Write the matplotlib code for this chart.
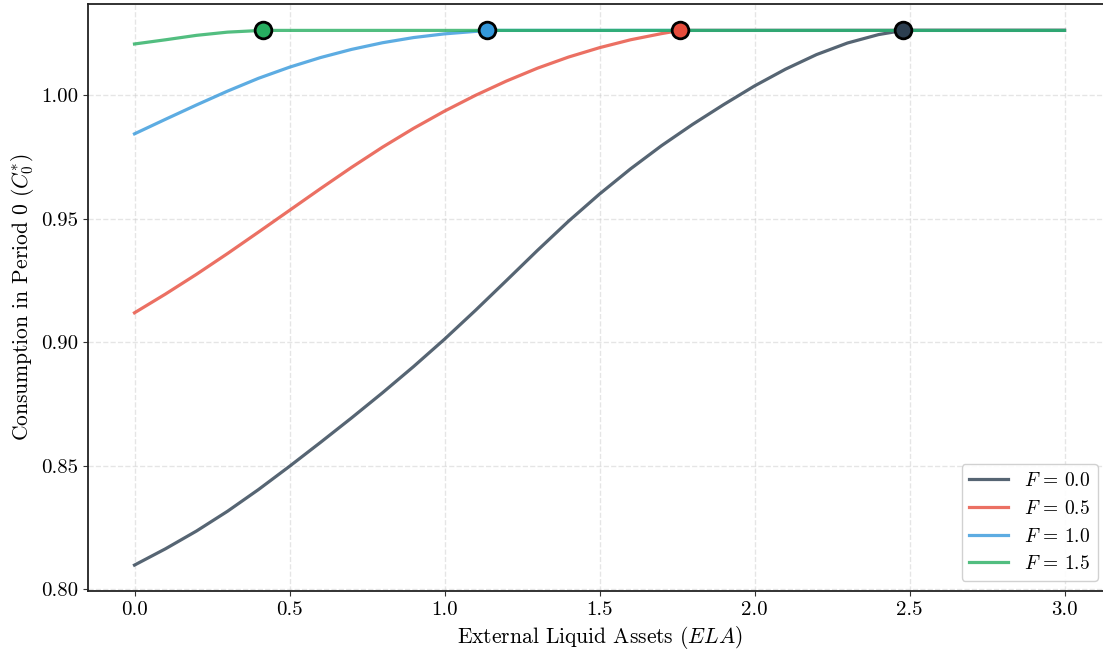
import matplotlib
matplotlib.use("Agg")
import matplotlib.pyplot as plt

plt.rcParams["font.family"] = "serif"
plt.rcParams["font.serif"] = ["cmr10", "DejaVu Serif"]
plt.rcParams["mathtext.fontset"] = "cm"
plt.rcParams["axes.formatter.use_mathtext"] = True

# values
c_max = 1.0263

ela_f0 = [0.0, 0.1, 0.2, 0.3, 0.4, 0.5, 0.6, 0.7, 0.8, 0.9, 1.0, 1.1, 1.2, 1.3, 1.4,
          1.5, 1.6, 1.7, 1.8, 1.9, 2.0, 2.1, 2.2, 2.3, 2.4, 2.48, 2.6, 2.8, 3.0]
c_f0 = [0.8097, 0.8163, 0.8235, 0.8315, 0.8403, 0.8497, 0.8594, 0.8693, 0.8795, 0.8901,
        0.9012, 0.9129, 0.9250, 0.9372, 0.9490, 0.9600, 0.9702, 0.9796, 0.9882, 0.9962,
        1.0038, 1.0106, 1.0165, 1.0212, 1.0246, 1.0263, 1.0263, 1.0263, 1.0263]

ela_f05 = [0.0, 0.1, 0.2, 0.3, 0.4, 0.5, 0.6, 0.7, 0.8, 0.9, 1.0, 1.1, 1.2, 1.3, 1.4,
           1.5, 1.6, 1.7, 1.76, 2.0, 2.5, 3.0]
c_f05 = [0.9119, 0.9195, 0.9275, 0.9359, 0.9446, 0.9534, 0.9622, 0.9708, 0.9790, 0.9866,
         0.9936, 1.0000, 1.0058, 1.0110, 1.0155, 1.0193, 1.0225, 1.0250, 1.0263, 1.0263,
         1.0263, 1.0263]

ela_f10 = [0.0, 0.1, 0.2, 0.3, 0.4, 0.5, 0.6, 0.7, 0.8, 0.9, 1.0, 1.1, 1.14, 1.5, 2.0,
           2.5, 3.0]
c_f10 = [0.9844, 0.9903, 0.9961, 1.0017, 1.0069, 1.0114, 1.0153, 1.0186, 1.0213, 1.0234,
         1.0249, 1.0259, 1.0263, 1.0263, 1.0263, 1.0263, 1.0263]

ela_f15 = [0.0, 0.1, 0.2, 0.3, 0.41, 1.0, 2.0, 3.0]
c_f15 = [1.0208, 1.0225, 1.0243, 1.0256, 1.0263, 1.0263, 1.0263, 1.0263]

f_labels = ["0.0", "0.5", "1.0", "1.5"]
kink_ela = [2.48, 1.76, 1.138, 0.413]
colors = ["#2c3e50", "#e74c3c", "#3498db", "#27ae60"]

series = [(ela_f0, c_f0), (ela_f05, c_f05), (ela_f10, c_f10), (ela_f15, c_f15)]

fig = plt.figure(figsize=(11.03, 6.54), dpi=100)
ax = fig.add_axes([88 / 1103, 63 / 654, 1023 / 1103, 587.5 / 654])

for (x, y), lab, col in zip(series, f_labels, colors):
    ax.plot(x, y, color=col, alpha=0.8, lw=2.3, label=rf"$F\,=\,{lab}$", zorder=2)

for k, col in zip(kink_ela, colors):
    ax.plot(k, c_max, "o", color=col, markersize=12, markeredgecolor="black",
            markeredgewidth=2, zorder=5)

ax.set_xlim(-0.15, 3.15)
ax.set_ylim(0.7992, 1.0372)
ax.set_xticks([0.0, 0.5, 1.0, 1.5, 2.0, 2.5, 3.0])
ax.set_yticks([0.80, 0.85, 0.90, 0.95, 1.00])
ax.set_yticklabels(["0.80", "0.85", "0.90", "0.95", "1.00"])
ax.set_xticklabels(["0.0", "0.5", "1.0", "1.5", "2.0", "2.5", "3.0"])
ax.tick_params(labelsize=15, color="#333333")

ax.grid(True, linestyle="--", color="#cccccc", alpha=0.5, lw=1)
for s in ax.spines.values():
    s.set_color("#222222")
    s.set_linewidth(1.3)

ax.set_xlabel(r"External Liquid Assets ($ELA$)", fontsize=15.5)
ax.set_ylabel(r"Consumption in Period 0 ($C_0^{*}$)", fontsize=15.5)

ax.legend(loc="lower right", bbox_to_anchor=(0.987, 0.017), borderaxespad=0,
          fontsize=14, framealpha=0.9, edgecolor="#cccccc", fancybox=True)

fig.savefig("out.png", dpi=100)
